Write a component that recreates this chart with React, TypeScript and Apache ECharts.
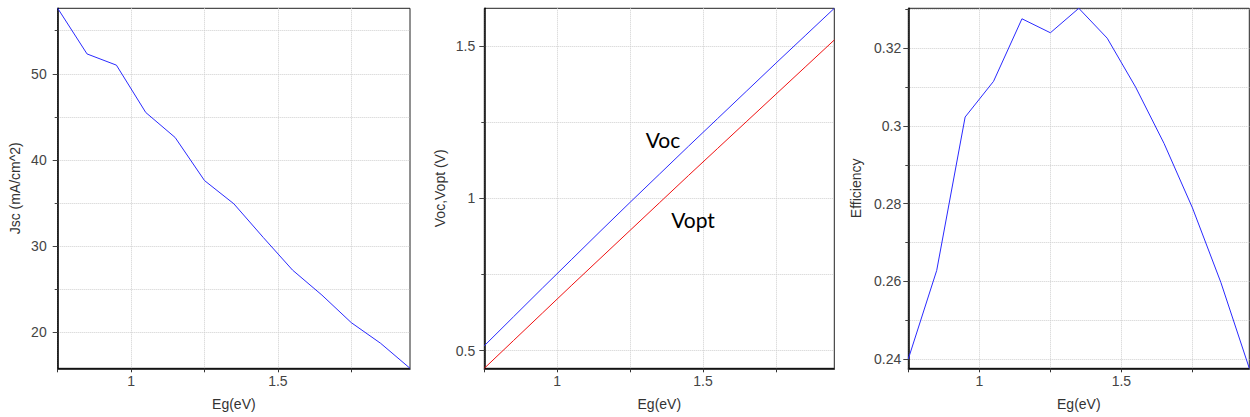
import React, { useEffect, useRef } from 'react';
import * as echarts from 'echarts';

// Band gap (eV)
const EG = [0.75, 0.85, 0.95, 1.05, 1.15, 1.25, 1.35, 1.45, 1.55, 1.65, 1.75, 1.85, 1.95];
// Short-circuit current density (mA/cm^2)
const JSC = [57.6, 52.3, 51.0, 45.5, 42.6, 37.6, 34.9, 31.0, 27.2, 24.3, 21.1, 18.7, 15.8];
// Open-circuit voltage and optimum voltage (V)
const VOC = [0.516, 0.611, 0.706, 0.8, 0.894, 0.987, 1.079, 1.171, 1.262, 1.353, 1.444, 1.534, 1.624];
const VOPT = [0.442, 0.533, 0.624, 0.715, 0.805, 0.895, 0.985, 1.075, 1.164, 1.253, 1.342, 1.431, 1.52];
// Efficiency
const EFF = [0.24, 0.2628, 0.3023, 0.3115, 0.3276, 0.324, 0.3303, 0.3226, 0.31, 0.2955, 0.2789, 0.2597, 0.2376];

// Tick values
const X_TICKS = [0.75, 1, 1.25, 1.5, 1.75];
const X_LABELS = [1, 1.5];
const JSC_MAJOR = [20, 30, 40, 50];
const JSC_MINOR = [25, 35, 45, 55];
const V_MAJOR = [0.5, 1, 1.5];
const V_MINOR = [0.75, 1.25];
const EFF_MAJOR = [0.24, 0.26, 0.28, 0.3, 0.32];
const EFF_MINOR = [0.25, 0.27, 0.29, 0.31, 0.33];

const FONT = '"Liberation Sans", Arial, sans-serif';
const GRID_LINE = { color: '#cfcfcf', type: [1, 1], width: 1 };
const BLUE = '#2a2aff';
const RED = '#f01010';

const fmt = (v: number) => String(+(+v).toFixed(3));

function xAxisFor(gridIndex: number) {
  return {
    gridIndex,
    type: 'value',
    min: EG[0],
    max: EG[EG.length - 1],
    name: 'Eg(eV)',
    nameLocation: 'middle',
    nameGap: 29,
    nameTextStyle: { fontSize: 14, color: '#333', fontFamily: FONT },
    axisLine: { show: true, onZero: false, lineStyle: { color: '#000', width: 1.5 } },
    axisTick: { show: true, length: 4, customValues: X_TICKS, lineStyle: { color: '#333' } },
    axisLabel: { customValues: X_LABELS, margin: 6, fontSize: 14, color: '#444', fontFamily: FONT, formatter: fmt },
    splitLine: { show: true, lineStyle: GRID_LINE },
  };
}

function yAxesFor(gridIndex: number, name: string, nameGap: number, major: number[], minor: number[], margin: number, lo: number, hi: number) {
  return [
    {
      gridIndex,
      type: 'value',
      position: 'left',
      min: lo,
      max: hi,
      name,
      nameLocation: 'middle',
      nameGap,
      nameTextStyle: { fontSize: 14, color: '#333', fontFamily: FONT },
      axisLine: { show: true, onZero: false, lineStyle: { color: '#000', width: 1.5 } },
      axisTick: { show: true, length: 5, customValues: major, lineStyle: { color: '#444' } },
      axisLabel: { customValues: major, margin, fontSize: 14, color: '#444', fontFamily: FONT, formatter: fmt },
      splitLine: { show: true, lineStyle: GRID_LINE },
    },
    {
      gridIndex,
      type: 'value',
      position: 'left',
      offset: 0,
      min: lo,
      max: hi,
      axisLine: { show: false, onZero: false },
      axisTick: { show: true, length: 3, customValues: minor, lineStyle: { color: '#444' } },
      axisLabel: { show: false },
      splitLine: { show: true, lineStyle: GRID_LINE },
    },
  ];
}

const pairs = (ys: number[]) => EG.map((x, i) => [x, ys[i]]);

export default function App() {
  const ref = useRef<HTMLDivElement>(null);
  useEffect(() => {
    if (!ref.current) return;
    const chart = echarts.init(ref.current, undefined, { renderer: 'svg' });
    const gridBase = { show: true, borderColor: '#222', borderWidth: 1, backgroundColor: '#fff', containLabel: false };
    const vAll = [...VOC, ...VOPT];
    const yAxes = [
      ...yAxesFor(0, 'Jsc (mA/cm^2)', 36, JSC_MAJOR, JSC_MINOR, 11, Math.min(...JSC), Math.max(...JSC)),
      ...yAxesFor(1, 'Voc,Vopt (V)', 37, V_MAJOR, V_MINOR, 9, Math.min(...vAll), Math.max(...vAll)),
      ...yAxesFor(2, 'Efficiency', 45, EFF_MAJOR, EFF_MINOR, 7, Math.min(...EFF), Math.max(...EFF)),
    ];
    const lineBase = { type: 'line', showSymbol: false, symbol: 'none', silent: true, z: 5 };
    chart.setOption({
      animation: false,
      backgroundColor: '#fff',
      grid: [
        { ...gridBase, left: 57.7, top: 8.3, width: 352.3, height: 360 },
        { ...gridBase, left: 484.3, top: 8.3, width: 350, height: 360 },
        { ...gridBase, left: 908.3, top: 8.3, width: 341, height: 360 },
      ],
      xAxis: [xAxisFor(0), xAxisFor(1), xAxisFor(2)],
      yAxis: yAxes,
      series: [
        { ...lineBase, name: 'Jsc', xAxisIndex: 0, yAxisIndex: 0, data: pairs(JSC), lineStyle: { color: BLUE, width: 1 }, itemStyle: { color: BLUE } },
        { ...lineBase, name: 'Vopt', xAxisIndex: 1, yAxisIndex: 2, data: pairs(VOPT), lineStyle: { color: RED, width: 1 }, itemStyle: { color: RED } },
        { ...lineBase, name: 'Voc', xAxisIndex: 1, yAxisIndex: 2, data: pairs(VOC), lineStyle: { color: BLUE, width: 1 }, itemStyle: { color: BLUE } },
        { ...lineBase, name: 'Efficiency', xAxisIndex: 2, yAxisIndex: 4, data: pairs(EFF), lineStyle: { color: BLUE, width: 1 }, itemStyle: { color: BLUE } },
      ],
      graphic: [
        { type: 'text', x: 663, y: 139, z: 100, style: { text: 'Voc', fill: '#000', font: '21px Lato, "Open Sans", sans-serif', textAlign: 'center', textVerticalAlign: 'middle' } },
        { type: 'text', x: 693, y: 219, z: 100, style: { text: 'Vopt', fill: '#000', font: '21px Lato, "Open Sans", sans-serif', textAlign: 'center', textVerticalAlign: 'middle' } },
      ],
    });
    return () => chart.dispose();
  }, []);
  return <div ref={ref} style={{ position: 'fixed', left: 0, top: 0, width: 1250, height: 417 }} />;
}
